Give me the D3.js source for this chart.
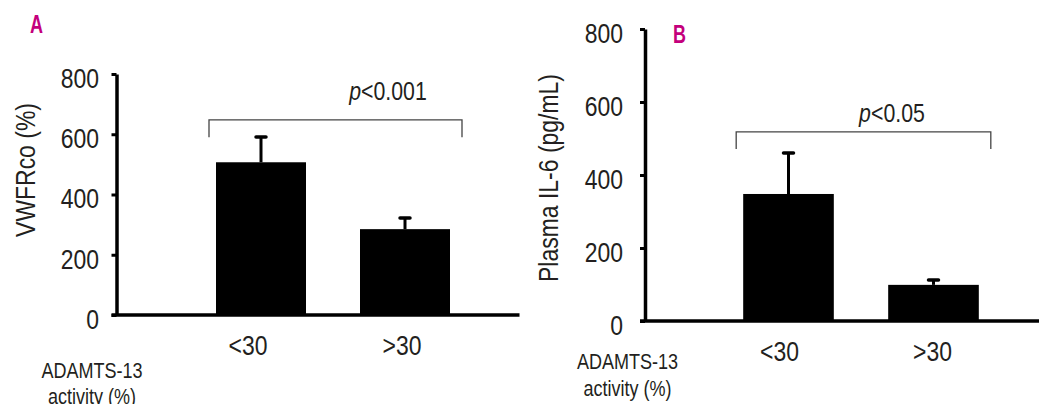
<!DOCTYPE html>
<html>
<head>
<meta charset="utf-8">
<script src="https://cdn.jsdelivr.net/npm/d3@7"></script>
<style>
  body { margin: 0; background: #fff; }
  svg { display: block; }
  text { font-family: 'Liberation Sans', Arial, sans-serif; fill: #231f20; }
</style>
</head>
<body>
<svg id="chart" width="1039" height="404"></svg>
<script>
const groups = ['<30', '>30'];
const yTicks = [0, 200, 400, 600, 800];

// panel A: VWFRco (%)
const vwfMeans = [507, 285];
const vwfErrors = [87, 40];

// panel B: plasma IL-6 (pg/mL)
const il6Means = [348, 99];
const il6Errors = [115, 16];

// the original uses a condensed face; no narrow font is installed, so squeeze
const narrow = 0.82;

const panels = [
  {
    letter: 'A', letterX: 30, letterY: 33,
    title: 'VWFRco (%)', titleX: 25, titleY: 170,
    means: vwfMeans, errors: vwfErrors,
    pText: '<0.001', pX: 388, pY: 100, bracketTop: 648, bracketLeg: 590,
    axisX: 116.5, axisEnd: 1039 / 2, yRange: [315, 74], band: [189, 477],
    pad: 12.5, labelDx: [-13, -3], footX: 92, footY: [370, 396],
  },
  {
    letter: 'B', letterX: 673, letterY: 43,
    title: 'Plasma IL-6 (pg/mL)', titleX: 548, titleY: 178,
    means: il6Means, errors: il6Errors,
    pText: '<0.05', pX: 892, pY: 122, bracketTop: 518, bracketLeg: 471,
    axisX: 645, axisEnd: 1039, yRange: [321, 29], band: [716, 1006],
    pad: 17, labelDx: [-9, -1], footX: 627.5, footY: [361, 388],
  },
];

const svg = d3.select('#chart');

panels.forEach(p => {
  const g = svg.append('g');

  const y = d3.scaleLinear().domain([0, 800]).range(p.yRange);
  const x = d3.scaleBand()
    .domain(groups)
    .range(p.band)
    .paddingInner(0.375)
    .paddingOuter(0.1875);
  const cx = d => x(d) + x.bandwidth() / 2;

  // bars
  g.selectAll('rect.bar')
    .data(groups)
    .join('rect')
    .attr('class', 'bar')
    .attr('x', d => x(d))
    .attr('width', x.bandwidth())
    .attr('y', (d, i) => y(p.means[i]))
    .attr('height', (d, i) => y(0) - y(p.means[i]))
    .attr('fill', '#000');

  // error bars (upper only)
  const err = g.selectAll('g.err')
    .data(groups)
    .join('g')
    .attr('class', 'err');

  err.append('line')
    .attr('x1', cx)
    .attr('x2', cx)
    .attr('y1', (d, i) => y(p.means[i]))
    .attr('y2', (d, i) => y(p.means[i] + p.errors[i]))
    .attr('stroke', '#000')
    .attr('stroke-width', 3);

  err.append('line')
    .attr('x1', d => cx(d) - 5)
    .attr('x2', d => cx(d) + 5)
    .attr('y1', (d, i) => y(p.means[i] + p.errors[i]) + 1)
    .attr('y2', (d, i) => y(p.means[i] + p.errors[i]) + 1)
    .attr('stroke', '#000')
    .attr('stroke-width', 3.5)
    .attr('stroke-linecap', 'round');

  // y axis
  const yAxis = g.append('g')
    .attr('transform', `translate(${p.axisX},0)`)
    .call(d3.axisLeft(y).tickValues(yTicks).tickSize(5).tickSizeOuter(0).tickPadding(p.pad));

  yAxis.select('.domain')
    .attr('stroke', '#000')
    .attr('stroke-width', 3.5);
  yAxis.selectAll('.tick line')
    .attr('stroke', '#000')
    .attr('stroke-width', 3);
  yAxis.selectAll('.tick text')
    .attr('font-size', 28)
    .attr('font-family', null)
    .attr('fill', '#231f20')
    .attr('dy', '0.48em');

  // x axis
  const xAxis = g.append('g')
    .attr('transform', `translate(0,${y(0)})`);
  xAxis.append('line')
    .attr('x1', p.axisX - 5)
    .attr('x2', p.axisEnd)
    .attr('stroke', '#000')
    .attr('stroke-width', 3.5);

  xAxis.selectAll('text')
    .data(groups)
    .join('text')
    .attr('x', (d, i) => cx(d) + p.labelDx[i])
    .attr('y', 40)
    .attr('text-anchor', 'middle')
    .attr('font-size', 28)
    .text(d => d);

  // y title
  g.append('text')
    .attr('transform', `translate(${p.titleX},${p.titleY}) rotate(-90)`)
    .attr('text-anchor', 'middle')
    .attr('dominant-baseline', 'central')
    .attr('font-size', 28)
    .text(p.title);

  // footer label
  g.append('text')
    .attr('x', p.footX)
    .attr('y', p.footY[0])
    .attr('text-anchor', 'middle')
    .attr('dominant-baseline', 'central')
    .attr('font-size', 22)
    .text('ADAMTS-13');
  g.append('text')
    .attr('x', p.footX)
    .attr('y', p.footY[1])
    .attr('text-anchor', 'middle')
    .attr('dominant-baseline', 'central')
    .attr('font-size', 22)
    .text('activity (%)');

  // significance bracket
  const bx0 = x(groups[0]) - 7;
  const bx1 = x(groups[1]) + x.bandwidth() + 12;
  g.append('path')
    .attr('d', `M${bx0},${y(p.bracketLeg)}V${y(p.bracketTop)}H${bx1}V${y(p.bracketLeg)}`)
    .attr('fill', 'none')
    .attr('stroke', '#444')
    .attr('stroke-width', 1.3);

  const pt = g.append('text')
    .attr('x', p.pX)
    .attr('y', p.pY)
    .attr('text-anchor', 'middle')
    .attr('font-size', 26);
  pt.append('tspan').attr('font-style', 'italic').text('p');
  pt.append('tspan').text(p.pText);

  // panel letter
  g.append('text')
    .attr('class', 'letter')
    .attr('x', p.letterX)
    .attr('y', p.letterY)
    .attr('font-size', 25)
    .attr('font-weight', 'bold')
    .style('fill', '#c4007c')
    .text(p.letter);
});

// squeeze every text horizontally around its own anchor
svg.selectAll('text').each(function() {
  const t = d3.select(this);
  const tx = +t.attr('x') || 0;
  const ty = +t.attr('y') || 0;
  const tr = t.attr('transform') || '';
  const s = t.classed('letter') ? 0.72 : narrow;
  t.attr('transform', `${tr} translate(${tx},${ty}) scale(${s},1)`)
    .attr('x', null)
    .attr('y', null);
});
</script>
</body>
</html>
